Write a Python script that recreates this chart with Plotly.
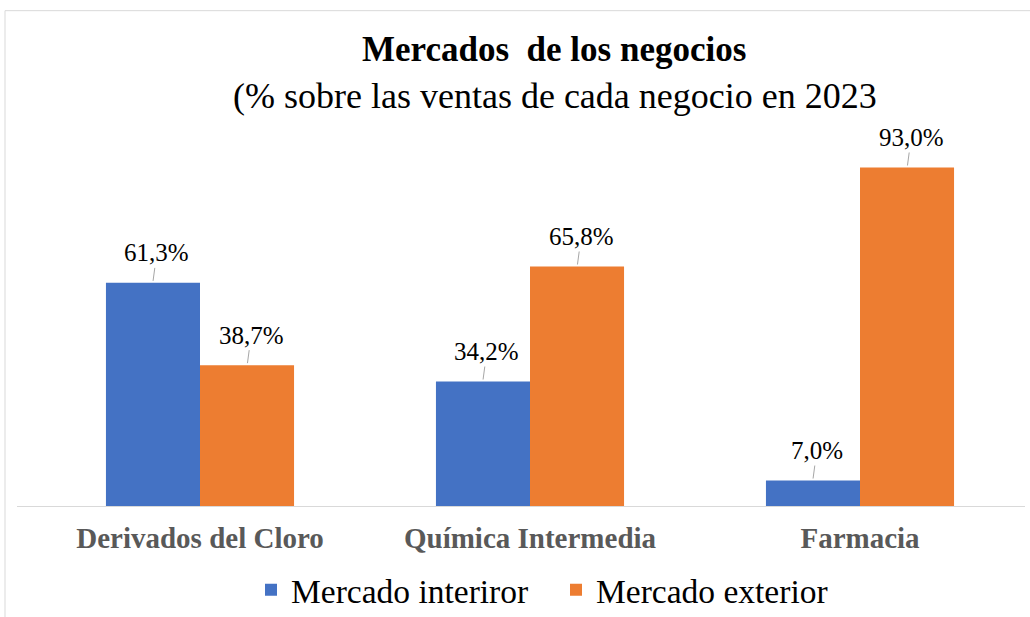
import plotly.graph_objects as go

categories = ["Derivados del Cloro", "Química Intermedia", "Farmacia"]
series_names = ["Mercado interiror", "Mercado exterior"]
interior = [61.3, 34.2, 7.0]
exterior = [38.7, 65.8, 93.0]
colors = ["#4472C4", "#ED7D31"]

FONT = "Liberation Serif, Times New Roman, serif"

W, H = 1030, 617
L, R, T, B = 17, 5, 141.5, 111
pw = W - L - R
ph = H - T - B

def px2x(p):
    return (p - L) / pw

def py2y(p):
    return (H - B - p) / ph

fig = go.Figure()
for name, vals, col in zip(series_names, [interior, exterior], colors):
    fig.add_trace(go.Bar(
        x=categories, y=vals, name=name,
        marker=dict(color=col, line=dict(width=0)),
        hoverinfo="skip",
    ))

def fmt(v):
    return f"{v:.1f}".replace(".", ",") + "%"

annotations = []
offsets = [-0.143, 0.143]
for si, vals in enumerate([interior, exterior]):
    for ci, v in enumerate(vals):
        annotations.append(dict(
            x=ci + offsets[si], y=v, xref="x", yref="y",
            text=fmt(v), showarrow=True, arrowhead=0, arrowwidth=1,
            arrowcolor="#A6A6A6", ax=4, ay=-30, standoff=2,
            font=dict(family=FONT, size=25, color="#000000"),
        ))

annotations.append(dict(
    x=px2x(554), y=py2y(49), xref="paper", yref="paper",
    text="<b>Mercados\u00a0 de los negocios</b>", showarrow=False,
    xanchor="center", yanchor="middle",
    font=dict(family=FONT, size=35, color="#000000"),
))
annotations.append(dict(
    x=px2x(554.5), y=py2y(95), xref="paper", yref="paper",
    text="(% sobre las ventas de cada negocio en 2023", showarrow=False,
    xanchor="center", yanchor="middle",
    font=dict(family=FONT, size=36, color="#000000"),
))

fig.update_layout(
    width=W, height=H,
    margin=dict(l=L, r=R, t=T, b=B, pad=0, autoexpand=False),
    paper_bgcolor="white", plot_bgcolor="white",
    barmode="group", bargap=0.43, bargroupgap=0,
    font=dict(family=FONT),
    annotations=annotations,
    showlegend=True,
    legend=dict(
        orientation="h", xref="container", yref="container",
        x=251 / W, y=(H - 590) / H, xanchor="left", yanchor="middle",
        font=dict(family=FONT, size=33.5, color="#000000"),
        itemwidth=30, entrywidth=260, entrywidthmode="pixels",
        traceorder="normal", borderwidth=0,
    ),
    shapes=[dict(
        type="rect", xref="paper", yref="paper",
        x0=px2x(5), x1=px2x(1040), y0=py2y(10), y1=py2y(630),
        line=dict(color="#D9D9D9", width=1), layer="below",
    )],
)
fig.update_xaxes(
    type="category", range=[-0.5 - 18 / 330, 2.5],
    showline=True, linecolor="#D9D9D9", linewidth=1,
    showgrid=False, ticks="", ticklabelstandoff=6,
    tickfont=dict(family=FONT, size=29, color="#595959", weight="bold"),
    fixedrange=True,
)
fig.update_yaxes(
    range=[0, 100], visible=False, showgrid=False, zeroline=False, fixedrange=True,
)

fig.write_html(
    "out.html",
    config={"displayModeBar": False},
    post_script="document.body.style.margin='0px';document.body.style.overflow='hidden';",
)
